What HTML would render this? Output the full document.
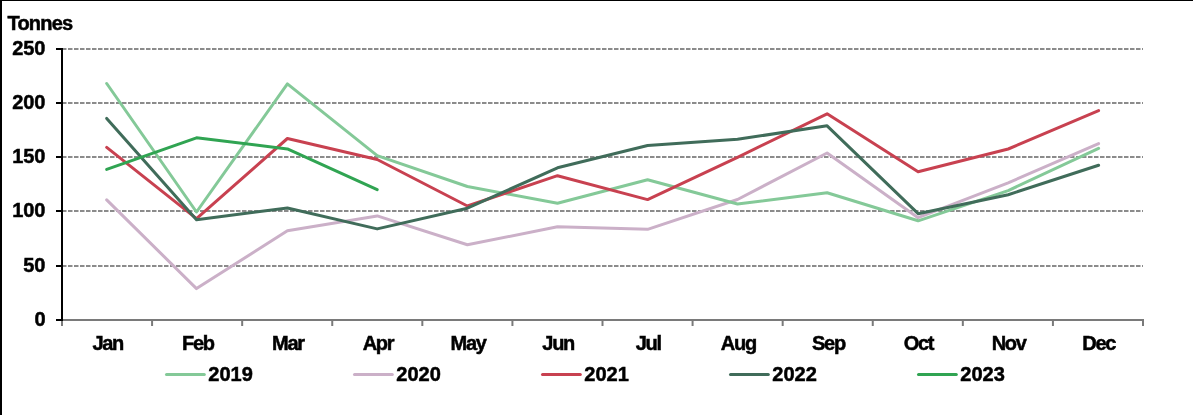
<!DOCTYPE html>
<html><head><meta charset="utf-8"><style>
html,body{margin:0;padding:0;background:#fff;width:1193px;height:415px;overflow:hidden}
svg{display:block;font-family:"Liberation Sans",sans-serif;will-change:transform}
</style></head><body>
<svg width="1193" height="415" viewBox="0 0 1193 415">
<rect x="0" y="0" width="1193" height="415" fill="#fff"/>
<rect x="0" y="0" width="2" height="415" fill="#000"/>
<rect x="0" y="0" width="1193" height="1" fill="#000"/>
<line x1="62" y1="49" x2="1143.0" y2="49" stroke="#8b8b8b" stroke-width="2" stroke-dasharray="4.5 1.5"/>
<line x1="62" y1="103" x2="1143.0" y2="103" stroke="#8b8b8b" stroke-width="2" stroke-dasharray="4.5 1.5"/>
<line x1="62" y1="157" x2="1143.0" y2="157" stroke="#8b8b8b" stroke-width="2" stroke-dasharray="4.5 1.5"/>
<line x1="62" y1="211" x2="1143.0" y2="211" stroke="#8b8b8b" stroke-width="2" stroke-dasharray="4.5 1.5"/>
<line x1="62" y1="266" x2="1143.0" y2="266" stroke="#8b8b8b" stroke-width="2" stroke-dasharray="4.5 1.5"/>
<line x1="61" y1="320" x2="1144.0" y2="320" stroke="#7a7a7a" stroke-width="2"/>
<line x1="62.00" y1="320" x2="62.00" y2="326" stroke="#7a7a7a" stroke-width="2"/>
<line x1="152.08" y1="320" x2="152.08" y2="326" stroke="#7a7a7a" stroke-width="2"/>
<line x1="242.17" y1="320" x2="242.17" y2="326" stroke="#7a7a7a" stroke-width="2"/>
<line x1="332.25" y1="320" x2="332.25" y2="326" stroke="#7a7a7a" stroke-width="2"/>
<line x1="422.33" y1="320" x2="422.33" y2="326" stroke="#7a7a7a" stroke-width="2"/>
<line x1="512.42" y1="320" x2="512.42" y2="326" stroke="#7a7a7a" stroke-width="2"/>
<line x1="602.50" y1="320" x2="602.50" y2="326" stroke="#7a7a7a" stroke-width="2"/>
<line x1="692.58" y1="320" x2="692.58" y2="326" stroke="#7a7a7a" stroke-width="2"/>
<line x1="782.67" y1="320" x2="782.67" y2="326" stroke="#7a7a7a" stroke-width="2"/>
<line x1="872.75" y1="320" x2="872.75" y2="326" stroke="#7a7a7a" stroke-width="2"/>
<line x1="962.83" y1="320" x2="962.83" y2="326" stroke="#7a7a7a" stroke-width="2"/>
<line x1="1052.92" y1="320" x2="1052.92" y2="326" stroke="#7a7a7a" stroke-width="2"/>
<line x1="1143.00" y1="320" x2="1143.00" y2="326" stroke="#7a7a7a" stroke-width="2"/>
<line x1="62" y1="48" x2="62" y2="321" stroke="#000" stroke-width="2"/>
<line x1="56" y1="49" x2="62" y2="49" stroke="#000" stroke-width="2"/>
<line x1="56" y1="103" x2="62" y2="103" stroke="#000" stroke-width="2"/>
<line x1="56" y1="157" x2="62" y2="157" stroke="#000" stroke-width="2"/>
<line x1="56" y1="211" x2="62" y2="211" stroke="#000" stroke-width="2"/>
<line x1="56" y1="266" x2="62" y2="266" stroke="#000" stroke-width="2"/>
<line x1="56" y1="320" x2="62" y2="320" stroke="#000" stroke-width="2"/>
<polyline points="106.70,199.9 196.50,288.6 287.40,230.8 377.20,215.9 467.40,244.8 557.50,226.8 647.60,229.3 737.50,199.5 827.10,153.0 918.10,217.7 1008.20,182.8 1098.60,143.55" fill="none" stroke="#cbb0c8" stroke-width="3" stroke-linejoin="round" stroke-linecap="round"/>
<polyline points="106.70,83.5 196.50,212.0 287.40,83.9 377.20,155.7 467.40,186.5 557.50,203.3 647.60,179.7 737.50,204.0 827.10,192.7 918.10,220.8 1008.20,190.6 1098.60,148.4" fill="none" stroke="#84c998" stroke-width="3" stroke-linejoin="round" stroke-linecap="round"/>
<polyline points="106.70,147.4 196.50,218.6 287.40,138.5 377.20,159.5 467.40,206.0 557.50,175.7 647.60,199.6 737.50,157.3 827.10,113.8 918.10,171.7 1008.20,149.0 1098.60,110.55" fill="none" stroke="#c84150" stroke-width="3" stroke-linejoin="round" stroke-linecap="round"/>
<polyline points="106.70,118.4 196.50,219.8 287.40,208.0 377.20,228.9 467.40,208.2 557.50,167.8 647.60,145.5 737.50,139.3 827.10,125.8 918.10,213.7 1008.20,194.7 1098.60,165.2" fill="none" stroke="#406c5a" stroke-width="3" stroke-linejoin="round" stroke-linecap="round"/>
<polyline points="106.70,169.4 196.50,137.8 287.40,148.9 377.20,189.6" fill="none" stroke="#30a452" stroke-width="3" stroke-linejoin="round" stroke-linecap="round"/>
<text x="7.5" y="30" font-family="Liberation Sans, sans-serif" font-weight="bold" font-size="20" stroke="#000" stroke-width="0.5" letter-spacing="-0.8">Tonnes</text>
<text x="45.5" y="55" font-family="Liberation Sans, sans-serif" font-weight="bold" font-size="20" stroke="#000" stroke-width="0.5" text-anchor="end">250</text>
<text x="45.5" y="109" font-family="Liberation Sans, sans-serif" font-weight="bold" font-size="20" stroke="#000" stroke-width="0.5" text-anchor="end">200</text>
<text x="45.5" y="163" font-family="Liberation Sans, sans-serif" font-weight="bold" font-size="20" stroke="#000" stroke-width="0.5" text-anchor="end">150</text>
<text x="45.5" y="217" font-family="Liberation Sans, sans-serif" font-weight="bold" font-size="20" stroke="#000" stroke-width="0.5" text-anchor="end">100</text>
<text x="45.5" y="272" font-family="Liberation Sans, sans-serif" font-weight="bold" font-size="20" stroke="#000" stroke-width="0.5" text-anchor="end">50</text>
<text x="45.5" y="326" font-family="Liberation Sans, sans-serif" font-weight="bold" font-size="20" stroke="#000" stroke-width="0.5" text-anchor="end">0</text>
<text x="107.74" y="350" font-family="Liberation Sans, sans-serif" font-weight="bold" font-size="20" stroke="#000" stroke-width="0.5" text-anchor="middle" letter-spacing="-1.3">Jan</text>
<text x="197.82" y="350" font-family="Liberation Sans, sans-serif" font-weight="bold" font-size="20" stroke="#000" stroke-width="0.5" text-anchor="middle" letter-spacing="-1.3">Feb</text>
<text x="287.91" y="350" font-family="Liberation Sans, sans-serif" font-weight="bold" font-size="20" stroke="#000" stroke-width="0.5" text-anchor="middle" letter-spacing="-1.3">Mar</text>
<text x="377.99" y="350" font-family="Liberation Sans, sans-serif" font-weight="bold" font-size="20" stroke="#000" stroke-width="0.5" text-anchor="middle" letter-spacing="-1.3">Apr</text>
<text x="468.07" y="350" font-family="Liberation Sans, sans-serif" font-weight="bold" font-size="20" stroke="#000" stroke-width="0.5" text-anchor="middle" letter-spacing="-1.3">May</text>
<text x="558.16" y="350" font-family="Liberation Sans, sans-serif" font-weight="bold" font-size="20" stroke="#000" stroke-width="0.5" text-anchor="middle" letter-spacing="-1.3">Jun</text>
<text x="648.24" y="350" font-family="Liberation Sans, sans-serif" font-weight="bold" font-size="20" stroke="#000" stroke-width="0.5" text-anchor="middle" letter-spacing="-1.3">Jul</text>
<text x="738.33" y="350" font-family="Liberation Sans, sans-serif" font-weight="bold" font-size="20" stroke="#000" stroke-width="0.5" text-anchor="middle" letter-spacing="-1.3">Aug</text>
<text x="828.41" y="350" font-family="Liberation Sans, sans-serif" font-weight="bold" font-size="20" stroke="#000" stroke-width="0.5" text-anchor="middle" letter-spacing="-1.3">Sep</text>
<text x="918.49" y="350" font-family="Liberation Sans, sans-serif" font-weight="bold" font-size="20" stroke="#000" stroke-width="0.5" text-anchor="middle" letter-spacing="-1.3">Oct</text>
<text x="1008.58" y="350" font-family="Liberation Sans, sans-serif" font-weight="bold" font-size="20" stroke="#000" stroke-width="0.5" text-anchor="middle" letter-spacing="-1.3">Nov</text>
<text x="1098.66" y="350" font-family="Liberation Sans, sans-serif" font-weight="bold" font-size="20" stroke="#000" stroke-width="0.5" text-anchor="middle" letter-spacing="-1.3">Dec</text>
<line x1="166.5" y1="374.4" x2="204.3" y2="374.4" stroke="#84c998" stroke-width="3" stroke-linecap="round"/>
<text x="208.3" y="381" font-family="Liberation Sans, sans-serif" font-weight="bold" font-size="20" stroke="#000" stroke-width="0.5">2019</text>
<line x1="354.5" y1="374.4" x2="392.3" y2="374.4" stroke="#cbb0c8" stroke-width="3" stroke-linecap="round"/>
<text x="396.3" y="381" font-family="Liberation Sans, sans-serif" font-weight="bold" font-size="20" stroke="#000" stroke-width="0.5">2020</text>
<line x1="542.5" y1="374.4" x2="580.3" y2="374.4" stroke="#c84150" stroke-width="3" stroke-linecap="round"/>
<text x="584.3" y="381" font-family="Liberation Sans, sans-serif" font-weight="bold" font-size="20" stroke="#000" stroke-width="0.5">2021</text>
<line x1="730.5" y1="374.4" x2="768.3" y2="374.4" stroke="#406c5a" stroke-width="3" stroke-linecap="round"/>
<text x="772.3" y="381" font-family="Liberation Sans, sans-serif" font-weight="bold" font-size="20" stroke="#000" stroke-width="0.5">2022</text>
<line x1="918.5" y1="374.4" x2="956.3" y2="374.4" stroke="#30a452" stroke-width="3" stroke-linecap="round"/>
<text x="960.3" y="381" font-family="Liberation Sans, sans-serif" font-weight="bold" font-size="20" stroke="#000" stroke-width="0.5">2023</text>
</svg>
</body></html>
